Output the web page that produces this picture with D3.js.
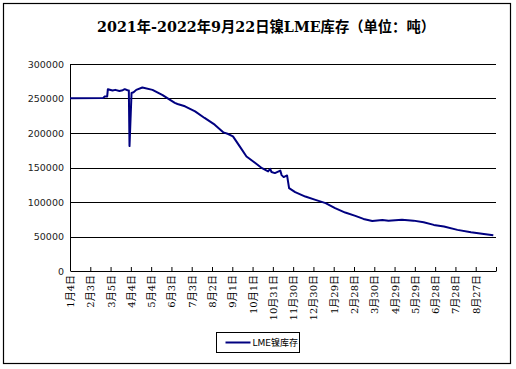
<!DOCTYPE html>
<html>
<head>
<meta charset="utf-8">
<script src="https://cdn.jsdelivr.net/npm/d3@7"></script>
<style>
  body { margin: 0; background: #fff; }
  svg { display: block; }
</style>
</head>
<body>
<svg id="drawing_region"></svg>
<script>
// LME nickel stock
const dates = [
    '2021-01-04', '2021-02-22', '2021-02-24', '2021-02-28', '2021-03-01', '2021-03-08',
    '2021-03-12', '2021-03-18', '2021-03-23', '2021-03-26', '2021-03-30', '2021-04-01',
    '2021-04-02', '2021-04-05', '2021-04-08', '2021-04-12', '2021-04-21', '2021-05-06',
    '2021-05-21', '2021-06-01', '2021-06-08', '2021-06-12', '2021-06-23', '2021-07-08',
    '2021-07-22', '2021-08-06', '2021-08-19', '2021-08-26', '2021-09-02', '2021-09-12',
    '2021-09-22', '2021-10-05', '2021-10-15', '2021-10-24', '2021-10-27', '2021-10-29',
    '2021-11-03', '2021-11-11', '2021-11-13', '2021-11-16', '2021-11-21', '2021-11-24',
    '2021-12-03', '2021-12-18', '2022-01-02', '2022-01-17', '2022-01-31', '2022-02-15',
    '2022-03-02', '2022-03-14', '2022-03-27', '2022-04-11', '2022-04-20', '2022-05-10',
    '2022-05-27', '2022-06-11', '2022-06-26', '2022-07-11', '2022-07-31', '2022-08-20',
    '2022-09-08', '2022-09-22'
];
const stocks = [
    250500, 250600, 252800, 253000, 263500, 261500,
    262500, 261000, 262000, 263500, 262000, 261500,
    181000, 258000, 259000, 262500, 266000, 262500,
    255000, 248000, 243600, 242000, 238700, 231400,
    221800, 212100, 200900, 198500, 195100, 180600,
    166000, 156500, 149000, 144300, 148000, 143500,
    141900, 145500, 139000, 136100, 138500, 120000,
    114300, 107900, 103100, 98400, 91100, 84700,
    79900, 75500, 72600, 74000, 72700, 74300,
    73000, 70700, 66800, 64400, 59600, 56200,
    53700, 51800
];

const tickDates = [
    '2021-01-04', '2021-02-03', '2021-03-05', '2021-04-04', '2021-05-04', '2021-06-03',
    '2021-07-03', '2021-08-02', '2021-09-01', '2021-10-01', '2021-10-31', '2021-11-30',
    '2021-12-30', '2022-01-29', '2022-02-28', '2022-03-30', '2022-04-29', '2022-05-29',
    '2022-06-28', '2022-07-28', '2022-08-27', '2022-09-26'
];
const tickLabels = [
    '1月4日', '2月3日', '3月5日', '4月4日', '5月4日', '6月3日',
    '7月3日', '8月2日', '9月1日', '10月1日', '10月31日', '11月30日',
    '12月30日', '1月29日', '2月28日', '3月30日', '4月29日', '5月29日',
    '6月28日', '7月28日', '8月27日', ''
];
const yTicks = [0, 50000, 100000, 150000, 200000, 250000, 300000];

const titleText = '2021年-2022年9月22日镍LME库存（单位：吨）';
const seriesName = 'LME镍库存';

const parse = d3.utcParse('%Y-%m-%d');
const data = dates.map((d, i) => ({ date: parse(d), value: stocks[i] }));

class StockChart {
    constructor(config, data) {
        this.config = config;
        this.data = data;
        this.init();
    }
    init() {
        let self = this;
        const m = self.config.margin;

        self.svg = d3.select(self.config.parent)
            .attr('width', self.config.width)
            .attr('height', self.config.height);

        // outer frame
        self.svg.append('rect')
            .attr('x', 3.5).attr('y', 3.5)
            .attr('width', 507).attr('height', 360)
            .attr('fill', '#fff')
            .attr('stroke', '#000')
            .attr('stroke-width', 1.2);

        self.svg.append('text')
            .attr('x', 266)
            .attr('y', 32)
            .attr('text-anchor', 'middle')
            .style('font-family', '"DejaVu Serif", "Noto Sans CJK SC", serif')
            .style('font-size', '14.3px')
            .style('font-weight', 'bold')
            .text(titleText);

        self.chart = self.svg.append('g')
            .attr('transform', `translate(${m.left}, ${m.top})`);
        self.inner_width = self.config.width - m.left - m.right;
        self.inner_height = self.config.height - m.top - m.bottom;

        self.xscale = d3.scaleUtc()
            .domain([parse(tickDates[0]), parse(tickDates[tickDates.length - 1])])
            .range([0, self.inner_width]);

        self.yscale = d3.scaleLinear()
            .domain([0, 300000])
            .range([self.inner_height, 0]);

        self.line = d3.line()
            .x(d => self.xscale(d.date))
            .y(d => self.yscale(d.value));
    }
    render() {
        let self = this;

        // gridlines
        self.chart.append('g')
            .selectAll('line')
            .data(yTicks.slice(1))
            .join('line')
            .attr('x1', 0)
            .attr('x2', self.inner_width)
            .attr('y1', d => Math.round(self.yscale(d)) + 0.5)
            .attr('y2', d => Math.round(self.yscale(d)) + 0.5)
            .attr('stroke', '#000')
            .attr('stroke-width', 1);

        const yaxis = d3.axisLeft(self.yscale)
            .tickValues(yTicks)
            .tickSize(0)
            .tickPadding(6)
            .tickFormat(d3.format('d'));
        const yg = self.chart.append('g').call(yaxis);
        yg.select('.domain').attr('stroke', '#000').attr('d', `M0.5,0V${self.inner_height}`);
        yg.selectAll('text')
            .style('font-family', '"DejaVu Sans", Verdana, sans-serif')
            .style('font-size', '9.5px')
            .attr('fill', '#222');

        const xaxis = d3.axisBottom(self.xscale)
            .tickValues(tickDates.map(parse))
            .tickSize(-4)
            .tickSizeOuter(0)
            .tickFormat((d, i) => tickLabels[i]);
        const xg = self.chart.append('g')
            .attr('transform', `translate(0, ${self.inner_height})`)
            .call(xaxis);
        xg.select('.domain').attr('stroke', '#000');
        xg.selectAll('line').attr('stroke', '#000');
        xg.selectAll('text')
            .attr('transform', 'rotate(-90)')
            .attr('text-anchor', 'end')
            .attr('x', -4)
            .attr('y', 0)
            .attr('dy', '0.35em')
            .style('font-family', '"DejaVu Serif", "Noto Sans CJK SC", serif')
            .style('font-size', '10px')
            .attr('fill', '#000');

        self.chart.append('path')
            .datum(self.data)
            .attr('d', self.line)
            .attr('fill', 'none')
            .attr('stroke', '#000080')
            .attr('stroke-width', 2)
            .attr('stroke-linejoin', 'round');

        // legend
        const lg = self.svg.append('g')
            .attr('transform', 'translate(216.5, 332.5)');
        lg.append('rect')
            .attr('width', 83).attr('height', 20)
            .attr('fill', '#fff')
            .attr('stroke', '#000');
        lg.append('line')
            .attr('x1', 9).attr('x2', 34)
            .attr('y1', 10).attr('y2', 10)
            .attr('stroke', '#000080')
            .attr('stroke-width', 2);
        lg.append('text')
            .attr('x', 36).attr('y', 10)
            .attr('dy', '0.35em')
            .style('font-family', '"DejaVu Sans", "Noto Sans CJK SC", sans-serif')
            .style('font-size', '9px')
            .text(seriesName);
    }
}

const chart = new StockChart({
    parent: '#drawing_region',
    width: 516,
    height: 369,
    margin: { top: 64, right: 20, bottom: 98, left: 70 }
}, data);
chart.render();
</script>
</body>
</html>
